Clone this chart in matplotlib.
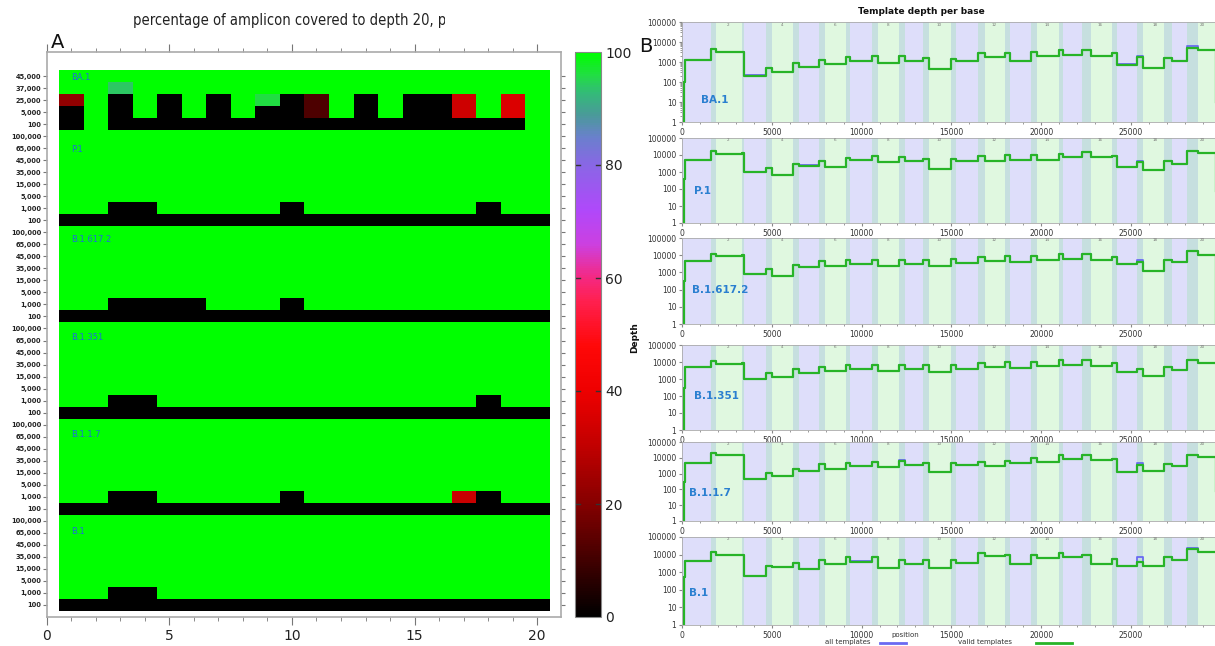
import matplotlib
matplotlib.use("Agg")
import matplotlib.pyplot as plt
from matplotlib import font_manager
from matplotlib.colors import LinearSegmentedColormap
from matplotlib.ticker import FixedLocator, MultipleLocator, NullFormatter, LogLocator
from matplotlib.transforms import Bbox

# ---------------- panel A data: % of amplicon covered to depth 20 ----------------
variants = ["BA.1", "P.1", "B.1.617.2", "B.1.351", "B.1.1.7", "B.1"]
amplicons = list(range(1, 21))
depths_ba1 = ["45,000", "37,000", "25,000", "5,000", "100"]
depths_std = ["100,000", "65,000", "45,000", "35,000", "15,000", "5,000", "1,000", "100"]

G = 100
cov_ba1 = [
    [G, G, G, G, G, G, G, G, G, G, G, G, G, G, G, G, G, G, G, G],
    [G, G, 94, G, G, G, G, G, G, G, G, G, G, G, G, G, G, G, G, G],
    [22, G, 0, G, 0, G, 0, G, 96, 0, 12, G, 0, G, 0, 0, 33, G, 36, G],
    [0, G, 0, G, 0, G, 0, G, 0, 0, 12, G, 0, G, 0, 0, 33, G, 36, G],
    [0, G, 0, 0, 0, 0, 0, 0, 0, 0, 0, 0, 0, 0, 0, 0, 0, 0, 0, G],
]
full_row = [G] * 20
zero_row = [0] * 20
# the 1,000-read row of the other lineages
row1k_p1 = [G, G, 0, 0, G, G, G, G, G, 0, G, G, G, G, G, G, G, 0, G, G]
row1k_b16172 = [G, G, 0, 0, 0, 0, G, G, G, 0, G, G, G, G, G, G, G, G, G, G]
row1k_b1351 = [G, G, 0, 0, G, G, G, G, G, G, G, G, G, G, G, G, G, 0, G, G]
row1k_b117 = [G, G, 0, 0, G, G, G, G, G, 0, G, G, G, G, G, G, 32, 0, G, G]
row1k_b1 = [G, G, 0, 0, G, G, G, G, G, G, G, G, G, G, G, G, G, G, G, G]

coverage = cov_ba1[:]
for r in [row1k_p1, row1k_b16172, row1k_b1351, row1k_b117, row1k_b1]:
    coverage += [full_row] * 6 + [r, zero_row]
row_labels = depths_ba1 + depths_std * 5
group_start = [0, 5, 13, 21, 29, 37]
label_offset = [0.1, 1.1, 0.6, 0.75, 0.8, 0.9]

cmap_stops = [(0, "#000000"), (10, "#420000"), (20, "#850000"), (30, "#c00000"),
              (40, "#ee0000"), (48, "#ff0808"), (56, "#ff2050"), (60, "#f52880"),
              (66, "#cc40e0"), (72, "#b048fa"), (80, "#8a66e6"), (85, "#6a80cc"),
              (89, "#4a9a99"), (93, "#33bb77"), (96, "#22dd44"), (100, "#00ff00")]

# ---------------- panel B data: template depth per base ----------------
genome_len = 29903
amp_start = [30, 1600, 3320, 4650, 6200, 7620, 9160, 10560, 12060, 13410,
             14960, 16460, 17960, 19420, 21010, 22300, 23930, 25360, 26830, 28110]
amp_end = [1910, 3480, 5000, 6540, 7980, 9380, 10940, 12420, 13780, 15280,
           16890, 18280, 19790, 21220, 22790, 24230, 25650, 27300, 28740, 29870]
lead_pos = [90, 180]
tail_pos = 29720

depth_amp = {
    "BA.1": [1300, 3000, 200, 300, 550, 780, 1100, 850, 1100, 430,
             1100, 1800, 1100, 1900, 2200, 1900, 700, 480, 1100, 4000],
    "P.1": [5200, 12000, 1000, 650, 2300, 2000, 5000, 3700, 4500, 1500,
            4600, 4600, 5200, 5200, 7500, 8000, 2000, 1400, 2800, 13000],
    "B.1.617.2": [4400, 9000, 800, 600, 2000, 2500, 3000, 2500, 3000, 2500,
                  3500, 4500, 4000, 5500, 6000, 5000, 3000, 1200, 4000, 10000],
    "B.1.351": [5000, 8000, 950, 1300, 2300, 3000, 4000, 3000, 4000, 2500,
                4000, 5000, 4500, 6000, 7000, 6000, 2500, 1500, 3500, 9000],
    "B.1.1.7": [5000, 16000, 470, 700, 1500, 1900, 3000, 2500, 3400, 1300,
                3500, 3200, 4500, 5800, 8500, 7500, 1300, 1400, 3200, 11500],
    "B.1": [4200, 9000, 600, 2100, 1500, 2800, 3800, 1800, 3000, 1800,
            3400, 8000, 2800, 6500, 7000, 3000, 2200, 2200, 5000, 14000],
}
depth_overlap = {
    "BA.1": [4300, 3200, 500, 900, 1300, 1800, 1900, 2000, 1500, 1400,
             2900, 2900, 3000, 4000, 4100, 2700, 1700, 1500, 5300],
    "P.1": [17700, 12500, 1800, 3100, 4500, 7000, 8500, 8000, 6000, 6000,
            9000, 9500, 10000, 11000, 15000, 9000, 4000, 4300, 17000],
    "B.1.617.2": [12000, 9800, 1500, 2700, 4500, 5500, 5500, 5500, 5500, 6000,
                  8000, 8500, 9500, 11500, 11000, 8000, 4200, 5200, 17000],
    "B.1.351": [12000, 8500, 2200, 3700, 5300, 7000, 7000, 7000, 6500, 6500,
                9000, 9500, 10500, 13000, 13000, 8500, 4000, 5000, 12500],
    "B.1.1.7": [21000, 16000, 1100, 2000, 3800, 5000, 5200, 6500, 5000, 5000,
                5500, 6000, 10000, 14000, 16000, 8500, 3700, 4300, 15000],
    "B.1": [13500, 9500, 2200, 3300, 5000, 7500, 7000, 5000, 5000, 5000,
            13000, 10000, 9000, 13000, 10000, 5500, 4000, 7000, 22000],
}
# where "all templates" sits above "valid templates"
all_amp_extra = {"BA.1": {2: 230, 16: 760}, "P.1": {4: 2500}, "B.1.617.2": {},
                 "B.1.351": {}, "B.1.1.7": {}, "B.1": {6: 4100}}
all_ov_extra = {"BA.1": {16: 1900, 18: 6000}, "P.1": {16: 4600}, "B.1.617.2": {16: 5000},
                "B.1.351": {}, "B.1.1.7": {7: 7200, 16: 4400}, "B.1": {16: 7000, 18: 25000}}
lead_depth = {"BA.1": 100, "P.1": 400, "B.1.617.2": 300, "B.1.351": 300, "B.1.1.7": 300, "B.1": 500}
tail_depth = {"BA.1": 10, "P.1": 80, "B.1.617.2": 1, "B.1.351": 9000, "B.1.1.7": 80, "B.1": 14000}
label_pos = {"BA.1": (1050, 13), "P.1": (670, 76), "B.1.617.2": (550, 95),
             "B.1.351": (670, 100), "B.1.1.7": (390, 60), "B.1": (390, 65)}

# ---------------- figure ----------------
W, H = 1215, 646
fig = plt.figure(figsize=(W / 100, H / 100), dpi=100)


def px_axes(x0, y0, x1, y1):
    return fig.add_axes([x0 / W, 1 - y1 / H, (x1 - x0) / W, (y1 - y0) / H])


fonts = font_manager.fontManager.ttflist
names = {f.name for f in fonts}
if "Liberation Sans Narrow" in names:
    narrow, narrow_kw, title_size = "Liberation Sans Narrow", {}, 11.5
elif any(f.name == "DejaVu Sans" and f.stretch == "condensed" for f in fonts):
    narrow, narrow_kw, title_size = "DejaVu Sans", {"fontstretch": "condensed"}, 10.5
else:
    narrow, narrow_kw, title_size = "Liberation Sans", {}, 10.2

# panel A
axA = px_axes(46.7, 52, 561, 617)
cmap = LinearSegmentedColormap.from_list("cov", [(v / 100, c) for v, c in cmap_stops])
im = axA.imshow(coverage, cmap=cmap, vmin=0, vmax=100, aspect="auto", interpolation="nearest",
                extent=(0.5, 20.5, len(coverage) - 0.5, -0.5))
axA.set_xlim(0, 20.97)
axA.set_ylim(45.0, -2.0)
axA.xaxis.set_major_locator(FixedLocator([0, 5, 10, 15, 20]))
axA.xaxis.set_minor_locator(MultipleLocator(1))
axA.set_yticks(range(len(row_labels)))
axA.set_yticklabels(row_labels)
axA.tick_params(axis="x", which="both", direction="out", top=True, bottom=True,
                colors="#777777", labelcolor="#222222", labelsize=10, pad=3)
axA.tick_params(axis="x", which="major", length=6)
axA.tick_params(axis="x", which="minor", length=3)
axA.tick_params(axis="y", direction="out", left=True, right=True, length=3,
                colors="#777777", labelcolor="#222222", labelsize=4.8, pad=1)
for t in axA.get_yticklabels():
    t.set_fontweight("bold")
for t in axA.get_xticklabels():
    t.set_family(narrow)
for s in axA.spines.values():
    s.set_color("#aaaaaa")
    s.set_linewidth(1.2)
for name, g0, off in zip(variants, group_start, label_offset):
    axA.text(1.0, g0 + off, name, color="#1f6fd6", fontsize=6, va="center", ha="left")

cax = px_axes(575, 52, 601, 617)
cb = fig.colorbar(im, cax=cax, ticks=[0, 20, 40, 60, 80, 100])
cb.outline.set_edgecolor("#888888")
cax.tick_params(length=0, labelsize=10, pad=3, labelcolor="#222222")
for t in cax.get_yticklabels():
    t.set_family(narrow)
for v in [20, 40, 60, 80]:
    cax.plot([0, 0.2], [v, v], color="#333333", lw=1, transform=cax.get_yaxis_transform())
    cax.plot([0.8, 1], [v, v], color="#333333", lw=1, transform=cax.get_yaxis_transform())

title = fig.text(133 / W, 1 - 21 / H, "percentage of amplicon covered to depth 20, pa",
                 family=narrow, fontsize=title_size, color="#222222", ha="left", va="center",
                 **narrow_kw)
title.set_clip_box(Bbox.from_extents(0, 0, 445, H))
title.set_clip_on(True)
fig.text(58 / W, 1 - 43 / H, "A", fontsize=14, ha="center", va="center", color="#111111")

# panel B
panel_rows = [(22, 122), (138, 223), (238, 324), (345, 430), (442, 521), (537, 625)]
band_purple, band_green, band_overlap = "#dedefa", "#e0f8e0", "#c6dfdf"
for k, (name, (y0, y1)) in enumerate(zip(variants, panel_rows)):
    ax = px_axes(682, y0, 1219, y1)
    for i, (s, e) in enumerate(zip(amp_start, amp_end)):
        ax.axvspan(0 if i == 0 else s, genome_len if i == 19 else e,
                   color=band_purple if i % 2 == 0 else band_green, lw=0, zorder=0)
    for i in range(19):
        ax.axvspan(amp_start[i + 1], amp_end[i], color=band_overlap, lw=0, zorder=0)

    for vals, ovs, col, lw in [
        ([all_amp_extra[name].get(i, v) for i, v in enumerate(depth_amp[name])],
         [all_ov_extra[name].get(i, v) for i, v in enumerate(depth_overlap[name])],
         "#6a6af2", 1.3),
        (depth_amp[name], depth_overlap[name], "#27b427", 1.6),
    ]:
        xs = [0, lead_pos[0], lead_pos[1]]
        ys = [0.5, lead_depth[name], vals[0]]
        for i in range(20):
            if i > 0:
                xs.append(amp_end[i - 1])
                ys.append(vals[i])
            if i < 19:
                xs.append(amp_start[i + 1])
                ys.append(ovs[i])
        xs += [tail_pos, genome_len]
        ys += [tail_depth[name], tail_depth[name]]
        ax.plot(xs, ys, drawstyle="steps-post", color=col, lw=lw, zorder=2)

    ax.set_yscale("log")
    ax.set_ylim(1, 100000)
    ax.set_xlim(0, genome_len)
    ax.set_yticks([1, 10, 100, 1000, 10000, 100000])
    ax.set_yticklabels(["1", "10", "100", "1000", "10000", "100000"])
    ax.yaxis.set_minor_locator(LogLocator(base=10, subs=range(2, 10)))
    ax.yaxis.set_minor_formatter(NullFormatter())
    ax.set_xticks([0, 5000, 10000, 15000, 20000, 25000])
    ax.xaxis.set_minor_locator(MultipleLocator(1000))
    ax.tick_params(which="both", labelsize=5.5, colors="#888888", labelcolor="#333333", pad=1.5)
    ax.tick_params(which="major", length=2.5)
    ax.tick_params(which="minor", length=1.5)
    for s in ax.spines.values():
        s.set_color("#aaaaaa")
        s.set_linewidth(0.6)
    for i in range(1, 20, 2):
        ax.text((amp_start[i] + amp_end[i]) / 2, 0.995, str(i + 1), fontsize=3,
                color="#777777", ha="center", va="top", transform=ax.get_xaxis_transform())
    lx, ly = label_pos[name]
    ax.text(lx, ly, name, color="#2a7fd0", fontsize=7.5, fontweight="bold", va="center", ha="left")

fig.text(921 / W, 1 - 11 / H, "Template depth per base", fontsize=6.5, fontweight="bold",
         ha="center", va="center", color="#111111")
fig.text(635 / W, 1 - 338 / H, "Depth", fontsize=6.5, fontweight="bold", rotation=90,
         ha="center", va="center", color="#111111")
fig.text(646 / W, 1 - 46 / H, "B", fontsize=14, ha="center", va="center", color="#111111")
fig.text(905 / W, 1 - 635 / H, "position", fontsize=5, ha="center", va="center", color="#333333")
fig.text(848 / W, 1 - 642 / H, "all templates", fontsize=5, ha="center", va="center", color="#333333")
fig.text(985 / W, 1 - 642 / H, "valid templates", fontsize=5, ha="center", va="center", color="#333333")
fig.add_artist(plt.Line2D([880 / W, 906 / W], [1 - 643 / H] * 2, color="#6a6af2", lw=2))
fig.add_artist(plt.Line2D([1036 / W, 1072 / W], [1 - 643 / H] * 2, color="#27b427", lw=2))

fig.savefig("out.png", dpi=100)
